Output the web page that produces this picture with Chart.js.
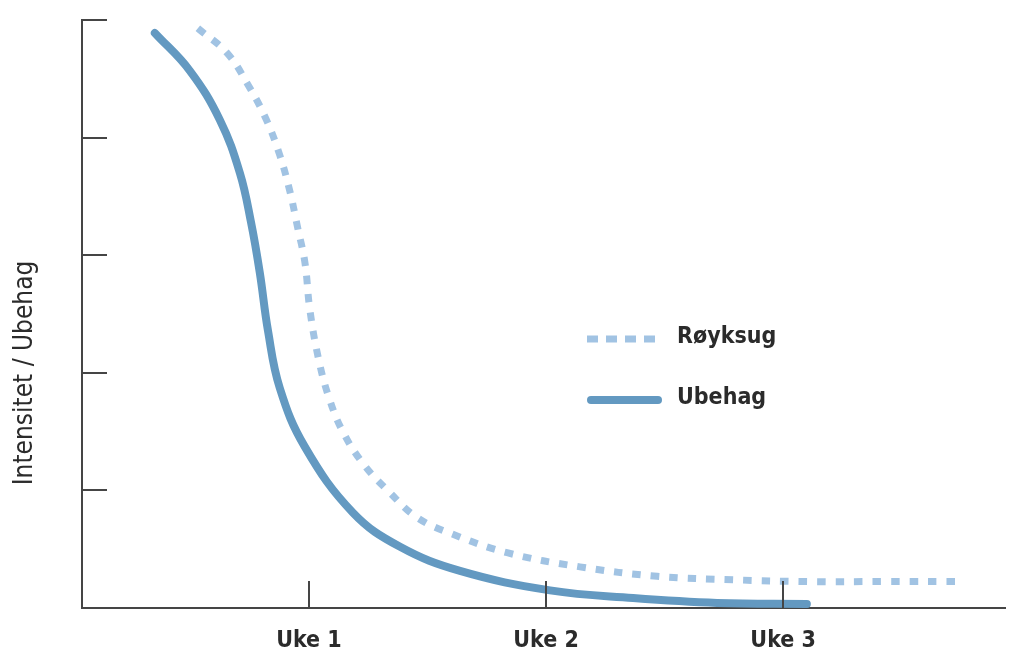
<!DOCTYPE html>
<html>
<head>
<meta charset="utf-8">
<script src="https://cdn.jsdelivr.net/npm/chart.js@4.4.1/dist/chart.umd.min.js"></script>
<style>
  html, body { margin: 0; padding: 0; background: #fff; }
  .chart { width: 1014px; height: 651px; position: relative; }
</style>
</head>
<body>
<div class="chart"><canvas id="myChart"></canvas></div>
<script>
// dager etter røykeslutt (x) og intensitet 0-5 (y), lest av bildet
const ubehagDays = [2.45, 3.48, 4.37, 4.96, 5.29, 5.55, 5.79, 6.14, 6.88, 8.30, 9.69, 11.46, 14.12, 16.57, 19.05, 21.7];
const ubehagValues = [4.89, 4.57, 4.15, 3.70, 3.28, 2.85, 2.36, 1.87, 1.37, 0.81, 0.52, 0.315, 0.15, 0.085, 0.043, 0.034];

const royksugDays = [3.72, 4.58, 5.20, 5.73, 6.14, 6.44, 6.67, 6.88, 7.03, 7.29, 7.59, 8.00, 8.62, 9.36, 10.19, 11.22, 12.85, 15.00, 17.28, 19.52, 21.71, 24.04, 26.37];
const royksugValues = [4.93, 4.72, 4.45, 4.16, 3.85, 3.54, 3.23, 2.94, 2.53, 2.11, 1.79, 1.50, 1.22, 0.99, 0.77, 0.63, 0.47, 0.35, 0.27, 0.24, 0.225, 0.225, 0.225];

const xTickValues = [7, 14, 21];
const xTickLabels = ['Uke 1', 'Uke 2', 'Uke 3'];
const yTickValues = [1, 2, 3, 4, 5];

const seriesNames = ['Røyksug', 'Ubehag'];
const axisTitle = 'Intensitet / Ubehag';

const textColor = '#2b2b2b';
const axisColor = '#454545';
const labelFont = '"DejaVu Sans Condensed", "DejaVu Sans", sans-serif';

function toPoints(xs, ys) {
  return xs.map((x, i) => ({ x, y: ys[i] }));
}

// små streker innenfor aksene
const innerTicks = {
  id: 'innerTicks',
  afterDraw(chart) {
    const { ctx, chartArea, scales } = chart;
    ctx.save();
    ctx.strokeStyle = axisColor;
    ctx.lineWidth = 2;
    yTickValues.forEach((v) => {
      const y = Math.round(scales.y.getPixelForValue(v));
      ctx.beginPath();
      ctx.moveTo(chartArea.left, y);
      ctx.lineTo(chartArea.left + 25, y);
      ctx.stroke();
    });
    xTickValues.forEach((v) => {
      const x = Math.round(scales.x.getPixelForValue(v));
      ctx.beginPath();
      ctx.moveTo(x, chartArea.bottom);
      ctx.lineTo(x, chartArea.bottom - 27);
      ctx.stroke();
    });
    ctx.restore();
  },
};

// aksetittel, litt lavere enn midten som i originalen
const yTitle = {
  id: 'yTitle',
  afterDraw(chart) {
    const { ctx } = chart;
    ctx.save();
    ctx.translate(32, 373);
    ctx.rotate(-Math.PI / 2);
    ctx.fillStyle = textColor;
    ctx.font = `26px ${labelFont}`;
    ctx.textAlign = 'center';
    ctx.textBaseline = 'alphabetic';
    ctx.fillText(axisTitle, 0, 0);
    ctx.restore();
  },
};

// egen forklaring inne i diagrammet
const innerLegend = {
  id: 'innerLegend',
  afterDraw(chart) {
    const { ctx } = chart;
    const rows = [
      { ds: chart.data.datasets[0], y: 339, x0: 587, len: 70, dash: [11, 8] },
      { ds: chart.data.datasets[1], y: 400, x0: 591, len: 67, dash: [] },
    ];
    ctx.save();
    rows.forEach((row) => {
      ctx.beginPath();
      ctx.strokeStyle = row.ds.borderColor;
      ctx.lineWidth = row.ds.borderWidth;
      ctx.lineCap = row.ds.borderCapStyle;
      ctx.setLineDash(row.dash);
      ctx.moveTo(row.x0, row.y);
      ctx.lineTo(row.x0 + row.len, row.y);
      ctx.stroke();
      ctx.setLineDash([]);
      ctx.fillStyle = textColor;
      ctx.font = `bold 23px ${labelFont}`;
      ctx.textBaseline = 'alphabetic';
      ctx.fillText(row.ds.label, 677, row.y + 4);
    });
    ctx.restore();
  },
};

const chartConfig = {
  type: 'line',
  data: {
    datasets: [
      {
        label: seriesNames[0],
        data: toPoints(royksugDays, royksugValues),
        borderColor: '#a1c3e3',
        borderWidth: 7,
        borderDash: [8.5, 10],
        borderCapStyle: 'butt',
        pointRadius: 0,
        tension: 0.4,
        fill: false,
      },
      {
        label: seriesNames[1],
        data: toPoints(ubehagDays, ubehagValues),
        borderColor: '#6399c1',
        borderWidth: 8,
        borderDash: [],
        borderCapStyle: 'round',
        pointRadius: 0,
        tension: 0.4,
        fill: false,
      },
    ],
  },
  options: {
    responsive: true,
    maintainAspectRatio: false,
    animation: false,
    layout: { padding: { top: 20, right: 9, left: 0, bottom: 0 } },
    plugins: {
      legend: { display: false },
      tooltip: { enabled: false },
    },
    scales: {
      x: {
        type: 'linear',
        min: 0.3,
        max: 27.55,
        grid: { display: false },
        border: { display: true, color: axisColor, width: 2 },
        afterBuildTicks(scale) {
          scale.ticks = xTickValues.map((v) => ({ value: v }));
        },
        afterFit(scale) {
          scale.height = 43;
        },
        ticks: {
          color: textColor,
          padding: 11,
          font: { family: labelFont, size: 23, weight: 'bold' },
          callback: (value) => xTickLabels[xTickValues.indexOf(value)],
        },
      },
      y: {
        min: 0,
        max: 5,
        grid: { display: false },
        border: { display: true, color: axisColor, width: 2 },
        ticks: { display: false },
        afterFit(scale) {
          scale.width = 82;
        },
      },
    },
  },
  plugins: [innerTicks, innerLegend, yTitle],
};

const ctx = document.getElementById('myChart').getContext('2d');
const chart = new Chart(ctx, chartConfig);
</script>
</body>
</html>
